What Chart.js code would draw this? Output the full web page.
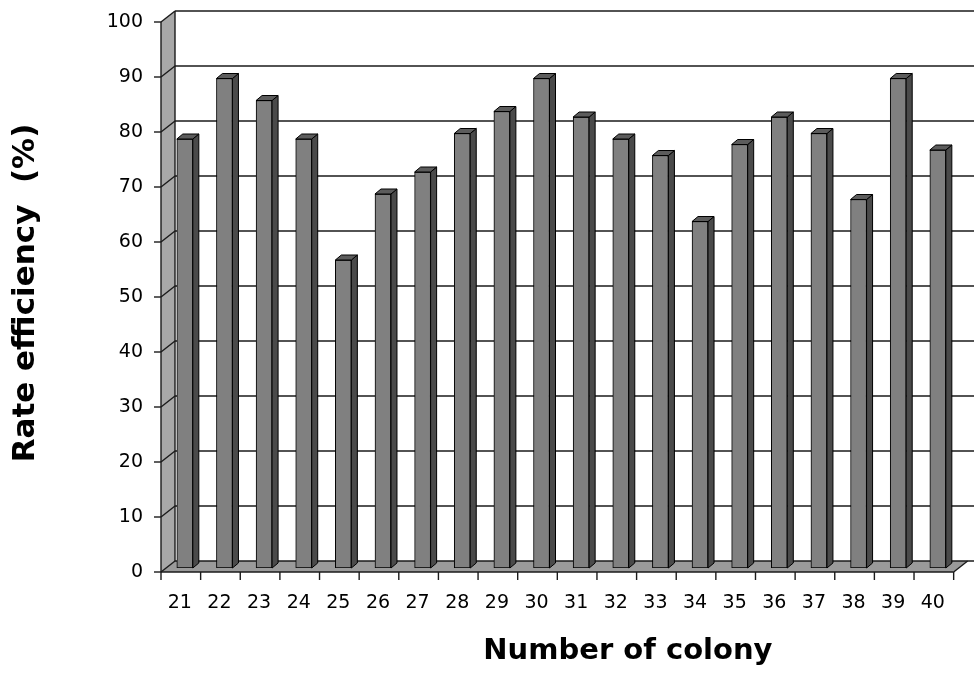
<!DOCTYPE html>
<html>
<head>
<meta charset="utf-8">
<script src="https://cdn.jsdelivr.net/npm/chart.js@4/dist/chart.umd.min.js"></script>
<style>
  html, body { margin: 0; padding: 0; background: #ffffff; }
  #wrap { width: 974px; height: 673px; }
</style>
</head>
<body>
<div id="wrap"><canvas id="chart" width="974" height="673"></canvas></div>
<script>
// Colony numbers on the category axis
const colonies = ['21', '22', '23', '24', '25', '26', '27', '28', '29', '30',
                  '31', '32', '33', '34', '35', '36', '37', '38', '39', '40'];
// Rate efficiency (%) for each colony
const efficiency = [78, 89, 85, 78, 56, 68, 72, 79, 83, 89,
                    82, 78, 75, 63, 77, 82, 79, 67, 89, 76];
// Value axis range and step
const yMin = 0;
const yMax = 100;
const yStep = 10;

const FONT = 'DejaVu Sans';

// Pseudo-3D offsets (pixels) of the front edge, back wall and bar depth,
// relative to the plane in which the bars are drawn by the scales.
const frontPlane = { dx: -4, dy: 4 };
const backPlane = { dx: 10, dy: -7 };
const barDepth = { dx: 6, dy: -5 };

const frame3d = {
  id: 'frame3d',
  beforeDatasetsDraw(chart) {
    const { ctx, chartArea: a, scales: { x, y } } = chart;
    const y0 = y.getPixelForValue(y.min);
    const yT = y.getPixelForValue(y.max);
    const f = frontPlane, b = backPlane;
    ctx.save();

    // side wall
    ctx.beginPath();
    ctx.moveTo(a.left + f.dx, yT + f.dy);
    ctx.lineTo(a.left + b.dx, yT + b.dy);
    ctx.lineTo(a.left + b.dx, y0 + b.dy);
    ctx.lineTo(a.left + f.dx, y0 + f.dy);
    ctx.closePath();
    ctx.fillStyle = '#a8a8a8';
    ctx.fill();

    // floor
    ctx.beginPath();
    ctx.moveTo(a.left + f.dx, y0 + f.dy);
    ctx.lineTo(a.right + f.dx, y0 + f.dy);
    ctx.lineTo(a.right + b.dx, y0 + b.dy);
    ctx.lineTo(a.left + b.dx, y0 + b.dy);
    ctx.closePath();
    ctx.fillStyle = '#9a9a9a';
    ctx.fill();

    ctx.strokeStyle = '#1a1a1a';
    ctx.lineWidth = 1.4;
    const seg = (x1, y1, x2, y2) => {
      ctx.beginPath(); ctx.moveTo(x1, y1); ctx.lineTo(x2, y2); ctx.stroke();
    };

    // grid lines on back wall, their continuation on the side wall, tick marks
    y.ticks.forEach(t => {
      const yy = y.getPixelForValue(t.value);
      seg(a.left + b.dx, yy + b.dy, chart.width, yy + b.dy);
      seg(a.left + f.dx, yy + f.dy, a.left + b.dx, yy + b.dy);
      seg(a.left + f.dx - 7, yy + f.dy, a.left + f.dx, yy + f.dy);
    });

    // wall edges
    seg(a.left + b.dx, yT + b.dy, a.left + b.dx, y0 + b.dy);
    seg(a.left + f.dx, yT + f.dy, a.left + f.dx, y0 + f.dy);
    // floor front edge and right edge
    seg(a.left + f.dx, y0 + f.dy, a.right + f.dx, y0 + f.dy);
    seg(a.right + f.dx, y0 + f.dy, a.right + b.dx, y0 + b.dy);

    // category tick marks at the boundaries
    const step = x.getPixelForValue(1) - x.getPixelForValue(0);
    for (let i = 0; i <= colonies.length; i++) {
      const bx = x.getPixelForValue(i) - step / 2 + f.dx;
      seg(bx, y0 + f.dy, bx, y0 + f.dy + 8);
    }
    ctx.restore();
  },
  afterDatasetsDraw(chart) {
    const { ctx } = chart;
    const meta = chart.getDatasetMeta(0);
    const d = barDepth;
    ctx.save();
    ctx.strokeStyle = '#000000';
    ctx.lineWidth = 1;
    ctx.lineJoin = 'round';
    meta.data.forEach(el => {
      const { x, y, base, width } = el.getProps(['x', 'y', 'base', 'width'], true);
      const l = x - width / 2, r = x + width / 2;
      // right side face
      ctx.beginPath();
      ctx.moveTo(r, y);
      ctx.lineTo(r + d.dx, y + d.dy);
      ctx.lineTo(r + d.dx, base + d.dy);
      ctx.lineTo(r, base);
      ctx.closePath();
      ctx.fillStyle = '#4a4a4a';
      ctx.fill();
      ctx.stroke();
      // top face
      ctx.beginPath();
      ctx.moveTo(l, y);
      ctx.lineTo(l + d.dx, y + d.dy);
      ctx.lineTo(r + d.dx, y + d.dy);
      ctx.lineTo(r, y);
      ctx.closePath();
      ctx.fillStyle = '#5c5c5c';
      ctx.fill();
      ctx.stroke();
    });
    ctx.restore();
  },
  afterDraw(chart) {
    // category axis title
    const { ctx, chartArea: a } = chart;
    ctx.save();
    ctx.font = 'bold 29px "' + FONT + '"';
    ctx.fillStyle = '#000000';
    ctx.textAlign = 'center';
    ctx.textBaseline = 'middle';
    ctx.fillText('Number of colony', a.left + (a.right - a.left) * 0.584, chart.height - 22);
    ctx.restore();
  }
};

new Chart(document.getElementById('chart'), {
  type: 'bar',
  data: {
    labels: colonies,
    datasets: [{
      data: efficiency,
      backgroundColor: '#808080',
      borderColor: '#000000',
      borderWidth: 1,
      borderSkipped: false,
      barThickness: 16
    }]
  },
  options: {
    responsive: false,
    animation: false,
    devicePixelRatio: 1,
    layout: { padding: { top: 18, right: 3, bottom: 0, left: 0 } },
    plugins: {
      legend: { display: false },
      tooltip: { enabled: false }
    },
    scales: {
      x: {
        grid: { display: false, drawTicks: false },
        border: { display: false },
        ticks: {
          color: '#000000',
          font: { family: FONT, size: 19 },
          padding: 24,
          labelOffset: -5,
          maxRotation: 0,
          autoSkip: false
        },
        afterFit(scale) { scale.height = 105; }
      },
      y: {
        min: yMin,
        max: yMax,
        grid: { display: false, drawTicks: false },
        border: { display: false },
        ticks: {
          stepSize: yStep,
          color: '#000000',
          font: { family: FONT, size: 19 },
          padding: 22,
          labelOffset: 4
        },
        title: {
          display: true,
          text: 'Rate efficiency  (%)',
          color: '#000000',
          font: { family: FONT, size: 31, weight: 'bold' },
          padding: { top: 7, bottom: 0 }
        },
        afterFit(scale) {
          scale.width = 165;
          // the outer layout padding already leaves room for the end labels
          scale.paddingTop = 0;
          scale.paddingBottom = 0;
        }
      }
    }
  },
  plugins: [frame3d]
});
</script>
</body>
</html>
